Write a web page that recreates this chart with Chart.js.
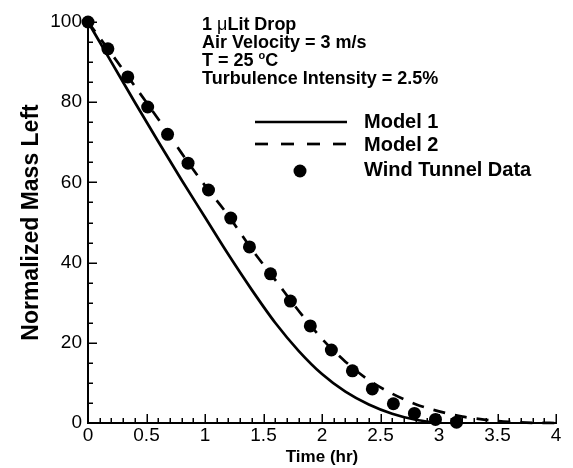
<!DOCTYPE html>
<html lang="en">
<head>
  <meta charset="UTF-8">
  <title>Normalized Mass Left</title>
  <script src="https://cdn.jsdelivr.net/npm/chart.js"></script>
  <style>
    html, body { margin: 0; padding: 0; background: #fff; }
    #box { width: 573px; height: 468px; }
  </style>
</head>
<body>
  <div id="box"><canvas id="grafico"></canvas></div>

  <script>
    // curvas dos modelos
    const model1X = [0, 0.2, 0.4, 0.6, 0.8, 1.0, 1.2, 1.4, 1.6, 1.8, 2.0, 2.2, 2.4, 2.6, 2.8, 3.0];
    const model1Y = [100, 90, 80, 70.2, 60.6, 51.3, 42, 33.2, 25, 18, 12.2, 7.8, 4.6, 2.3, 0.8, 0];

    const model2X = [0, 0.2, 0.4, 0.6, 0.8, 1.0, 1.2, 1.4, 1.6, 1.8, 2.0, 2.2, 2.4, 2.6, 2.8, 3.0, 3.2, 3.4, 3.6, 3.8, 4.0];
    const model2Y = [100, 92.1, 84, 75.8, 67.3, 59.2, 51.7, 43.3, 35.7, 28, 21, 15.3, 10.7, 7.3, 4.7, 2.9, 1.6, 0.8, 0.3, 0.05, 0];

    // pontos do túnel de vento
    const tunnelX = [0, 0.17, 0.34, 0.51, 0.68, 0.855, 1.03, 1.22, 1.38, 1.56, 1.73, 1.90, 2.08, 2.26, 2.43, 2.61, 2.79, 2.97, 3.15];
    const tunnelY = [100, 93.3, 86.3, 78.8, 72, 64.8, 58.1, 51.1, 43.9, 37.2, 30.4, 24.2, 18.2, 13, 8.5, 4.8, 2.4, 0.9, 0.2];

    const seriesNames = ['Model 1', 'Model 2', 'Wind Tunnel Data'];
    const infoLines = ['1 \u03bcLit Drop', 'Air Velocity = 3 m/s', 'T = 25 \u00b0C', 'Turbulence Intensity = 2.5%'];

    const xTicks = [0, 0.5, 1, 1.5, 2, 2.5, 3, 3.5, 4];
    const yTicks = [0, 20, 40, 60, 80, 100];

    const pares = (xs, ys) => xs.map((v, i) => ({ x: v, y: ys[i] }));
    const fonte = '"Liberation Sans", Arial, sans-serif';

    const eixos = {
      id: 'eixos',
      afterDatasetsDraw(chart) {
        const { ctx, chartArea: a, scales: { x, y } } = chart;
        ctx.save();
        ctx.strokeStyle = '#000';
        ctx.lineWidth = 2;
        ctx.beginPath();
        ctx.moveTo(a.left, a.top);
        ctx.lineTo(a.left, a.bottom);
        ctx.lineTo(a.right + 1, a.bottom);
        ctx.stroke();

        ctx.lineWidth = 1.5;
        ctx.beginPath();
        for (let i = 0; i <= 40; i++) {
          const px = Math.round(x.getPixelForValue(i / 10)) + 0.25;
          const len = i % 5 === 0 ? 9 : 5;
          ctx.moveTo(px, a.bottom);
          ctx.lineTo(px, a.bottom - len);
        }
        for (let v = 0; v <= 100; v += 5) {
          const py = Math.round(y.getPixelForValue(v)) + 0.25;
          const len = v % 20 === 0 ? 9 : 5;
          ctx.moveTo(a.left, py);
          ctx.lineTo(a.left + len, py);
        }
        ctx.stroke();
        ctx.restore();
      }
    };

    const legenda = {
      id: 'legenda',
      afterDraw(chart) {
        const ctx = chart.ctx;
        ctx.save();
        ctx.fillStyle = '#000';
        ctx.strokeStyle = '#000';
        ctx.textBaseline = 'alphabetic';

        // texto das condições
        ctx.font = 'bold 18px ' + fonte;
        ctx.fillText('1 ', 202, 30);
        let w = ctx.measureText('1 ').width;
        ctx.font = '18px ' + fonte;
        ctx.fillText('\u03bc', 202 + w, 30);
        w += ctx.measureText('\u03bc').width;
        ctx.font = 'bold 18px ' + fonte;
        ctx.fillText('Lit Drop', 202 + w, 30);
        ctx.fillText(infoLines[1], 202, 48);
        ctx.fillText('T = 25 ', 202, 66);
        w = ctx.measureText('T = 25 ').width;
        ctx.font = 'bold 11px ' + fonte;
        ctx.fillText('o', 202 + w, 59);
        w += ctx.measureText('o').width;
        ctx.font = 'bold 18px ' + fonte;
        ctx.fillText('C', 202 + w, 66);
        ctx.fillText(infoLines[3], 202, 84);

        // legenda
        ctx.lineWidth = 2.7;
        ctx.beginPath();
        ctx.moveTo(255, 122);
        ctx.lineTo(347, 122);
        ctx.stroke();
        ctx.setLineDash([13, 13]);
        ctx.beginPath();
        ctx.moveTo(255, 144);
        ctx.lineTo(347, 144);
        ctx.stroke();
        ctx.setLineDash([]);
        ctx.beginPath();
        ctx.arc(300, 171, 6.5, 0, Math.PI * 2);
        ctx.fill();

        ctx.font = 'bold 20px ' + fonte;
        ctx.fillText(seriesNames[0], 364, 128);
        ctx.fillText(seriesNames[1], 364, 151);
        ctx.fillText(seriesNames[2], 364, 176);
        ctx.restore();
      }
    };

    new Chart(document.getElementById('grafico'), {
      type: 'scatter',
      data: {
        datasets: [
          {
            label: seriesNames[0],
            data: pares(model1X, model1Y),
            showLine: true,
            borderColor: '#000',
            borderWidth: 2.7,
            pointRadius: 0,
            cubicInterpolationMode: 'monotone',
            clip: false
          },
          {
            label: seriesNames[1],
            data: pares(model2X, model2Y),
            showLine: true,
            borderColor: '#000',
            borderWidth: 2.7,
            borderDash: [12, 10],
            pointRadius: 0,
            cubicInterpolationMode: 'monotone',
            clip: false
          },
          {
            label: seriesNames[2],
            data: pares(tunnelX, tunnelY),
            showLine: false,
            backgroundColor: '#000',
            borderColor: '#000',
            pointRadius: 6.5,
            pointBorderWidth: 0,
            clip: false
          }
        ]
      },
      options: {
        responsive: true,
        maintainAspectRatio: false,
        animation: false,
        layout: { padding: { left: 0, right: 17, top: 22, bottom: 0 } },
        plugins: { legend: { display: false }, tooltip: { enabled: false } },
        scales: {
          x: {
            type: 'linear',
            min: 0,
            max: 4,
            afterBuildTicks: s => { s.ticks = xTicks.map(v => ({ value: v })); },
            afterFit: s => { s.height = 45; },
            grid: { display: false, drawTicks: false },
            border: { display: false },
            ticks: {
              padding: 1,
              color: '#000',
              maxRotation: 0,
              autoSkip: false,
              callback: v => String(v),
              font: { family: fonte, size: 19 }
            },
            title: {
              display: true,
              text: 'Time (hr)',
              color: '#000',
              padding: { top: 0, bottom: 0 },
              font: { family: fonte, size: 17, weight: 'bold' }
            }
          },
          y: {
            type: 'linear',
            min: 0,
            max: 100,
            afterBuildTicks: s => { s.ticks = yTicks.map(v => ({ value: v })); },
            afterFit: s => { s.width = 88; },
            grid: { display: false, drawTicks: false },
            border: { display: false },
            ticks: {
              padding: 6,
              color: '#000',
              autoSkip: false,
              callback: v => String(v),
              font: { family: fonte, size: 19 }
            },
            title: {
              display: true,
              text: 'Normalized Mass Left',
              color: '#000',
              padding: { top: 18, bottom: 0 },
              font: { family: fonte, size: 23, weight: 'bold' }
            }
          }
        }
      },
      plugins: [eixos, legenda]
    });
  </script>
</body>
</html>
